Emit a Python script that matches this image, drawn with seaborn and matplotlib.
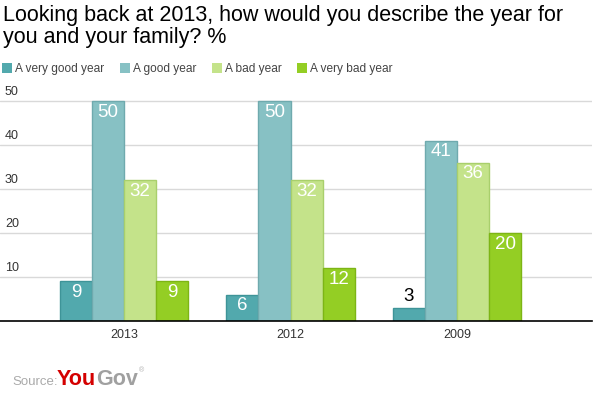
import matplotlib
matplotlib.use("Agg")
import matplotlib.pyplot as plt
import seaborn as sns
import pandas as pd
from matplotlib.patches import Patch
from matplotlib import transforms

years = ["2013", "2012", "2009"]
answers = ["A very good year", "A good year", "A bad year", "A very bad year"]
very_good = [9, 6, 3]
good = [50, 50, 41]
bad = [32, 32, 36]
very_bad = [9, 12, 20]
yticks = [10, 20, 30, 40, 50]

colors = ["#52A9AD", "#87C1C4", "#C4E38A", "#94CE24"]
edges = ["#3E9498", "#6FAAAE", "#A9CF6C", "#7DB515"]

rows = []
for ans, vals in zip(answers, [very_good, good, bad, very_bad]):
    for y, v in zip(years, vals):
        rows.append({"year": y, "answer": ans, "value": v})
df = pd.DataFrame(rows)

sns.set_theme(style="white")
plt.rcParams["font.family"] = ["Liberation Sans", "DejaVu Sans"]

fig = plt.figure(figsize=(5.96, 3.97), dpi=100)
W, H = 596, 397
ax = fig.add_axes([0 / W, (H - 321) / H, 592 / W, (321 - 97) / H])

sns.barplot(data=df, x="year", y="value", hue="answer", order=years,
            hue_order=answers, palette=colors, width=0.77, gap=0,
            saturation=1, ax=ax, legend=False, errorbar=None)

for i, cont in enumerate(ax.containers):
    for bar in cont:
        bar.set_edgecolor(edges[i])
        bar.set_linewidth(1.0)
    for bar in cont:
        v = bar.get_height()
        cx = bar.get_x() + bar.get_width() / 2
        if v >= 5:
            ax.annotate(f"{int(v)}", (cx, v), xytext=(0, -2), textcoords="offset points",
                        ha="center", va="top", color="white", fontsize=13.5)
        else:
            ax.annotate(f"{int(v)}", (cx, v), xytext=(0, 2), textcoords="offset points",
                        ha="center", va="bottom", color="black", fontsize=13.5)

ax.set_xlim(-0.745, 2.811)
ax.set_ylim(0, 50 * (321 - 97) / (321 - 101))
ax.set_yticks(yticks)
ax.set_yticklabels([])
ax.tick_params(axis="y", length=0)
ax.yaxis.grid(True, color="#D9D9D9", linewidth=1)
ax.set_axisbelow(True)
ax.set_xlabel("")
ax.set_ylabel("")
ax.tick_params(axis="x", length=0, labelsize=9, labelcolor="#333333", pad=6)
for s in ["top", "right", "left"]:
    ax.spines[s].set_visible(False)
ax.spines["bottom"].set_color("black")
ax.spines["bottom"].set_linewidth(1.2)

trans = transforms.blended_transform_factory(fig.transFigure, ax.transData) + \
    transforms.ScaledTranslation(0, 2 / 72, fig.dpi_scale_trans)
for t in yticks:
    ax.text(5 / W, t, str(t), transform=trans, ha="left", va="bottom",
            fontsize=9, color="#333333")

# Title
fig.text(3 / W, 1 - 5 / H, "Looking back at 2013, how would you describe the year for\nyou and your family? %",
         ha="left", va="top", fontsize=15.5, color="black", linespacing=1.08)

# Legend
handles = [Patch(facecolor=c, edgecolor="none", label=a) for c, a in zip(colors, answers)]
fig.legend(handles=handles, loc="upper left", bbox_to_anchor=(2 / W, 1 - 63 / H),
           ncol=4, frameon=False, fontsize=8.6,
           handlelength=0.85, handleheight=0.85,
           handletextpad=0.25, columnspacing=1.3, labelcolor="#444444",
           borderaxespad=0, borderpad=0)

# Source
fig.text(12 / W, 1 - 385 / H, "Source:", ha="left", va="baseline", fontsize=9.5, color="#AAAAAA")
t_you = fig.text(57 / W, 1 - 385 / H, "You", ha="left", va="baseline", fontsize=15.5,
                 color="#D40000", fontweight="bold")
fig.canvas.draw()
bb = t_you.get_window_extent(renderer=fig.canvas.get_renderer())
x_gov = bb.x1 / W / (fig.dpi / 100)
t_gov = fig.text(x_gov, 1 - 385 / H, "Gov", ha="left", va="baseline", fontsize=15.5,
                 color="#A0A0A0", fontweight="bold")
fig.canvas.draw()
bb2 = t_gov.get_window_extent(renderer=fig.canvas.get_renderer())
fig.text(bb2.x1 / W + 1 / W, 1 - 372 / H, "®", ha="left", va="baseline", fontsize=5,
         color="#B0B0B0")

fig.savefig("out.png", dpi=100)
